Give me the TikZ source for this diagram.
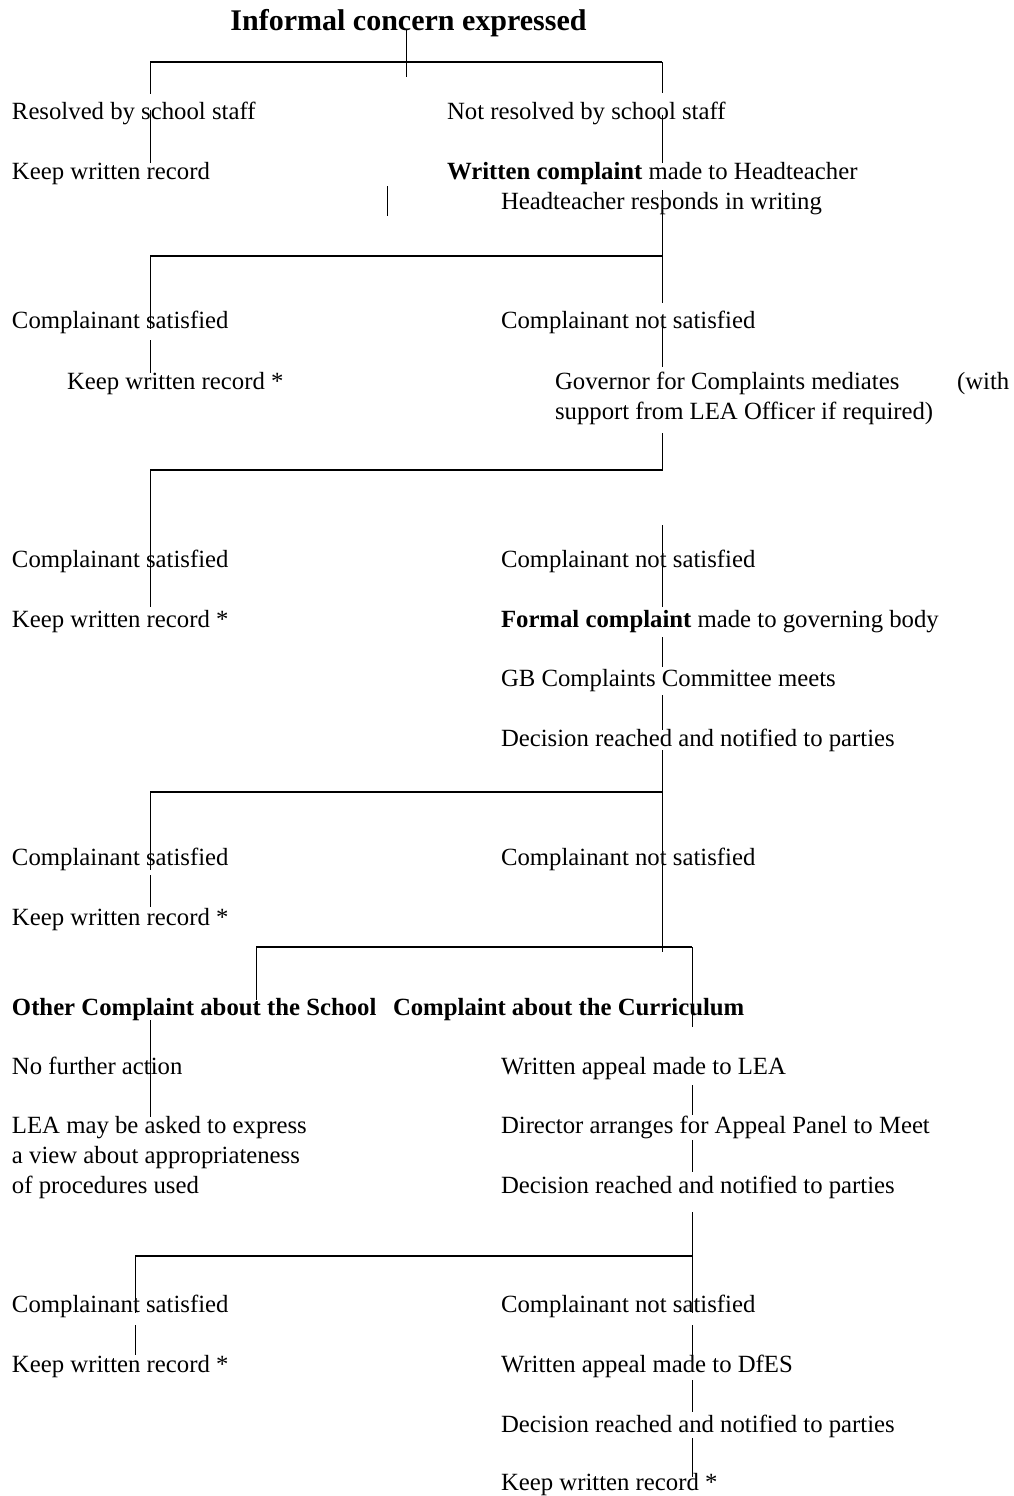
\documentclass[tikz,border=0pt]{standalone}
\usepackage{fontspec}
\setmainfont{Liberation Serif}
\begin{document}
\begin{tikzpicture}[x=1pt,y=-1pt,
  txt/.style={anchor=base west,inner sep=0pt,outer sep=0pt,font=\fontsize{24.75}{30}\selectfont},
  ttl/.style={anchor=base,inner sep=0pt,outer sep=0pt,font=\fontsize{30}{36}\selectfont\bfseries},
  vl/.style={line width=1pt},
  hl/.style={line width=1.7pt}]
\useasboundingbox[fill=white] (0,0) rectangle (1013,1496);

% ---------- texts ----------
\node[ttl] (title) at (408.5,31) {Informal concern expressed};
\node[txt] (res) at (12,119) {Resolved by school staff};
\node[txt] (notres) at (447,119) {Not resolved by school staff};
\node[txt] (kwr1) at (12,179) {Keep written record};
\node[txt] (wc) at (447,179) {\textbf{Written complaint} made to Headteacher};
\node[txt] (htr) at (501,209) {Headteacher responds in writing};
\node[txt] (cs1) at (12,328) {Complainant satisfied};
\node[txt] (cns1) at (501,328) {Complainant not satisfied};
\node[txt] (kwr2) at (67,389) {Keep written record *};
\node[txt] (gov) at (555,389) {Governor for Complaints mediates};
\node[txt] (with) at (957,389) {(with};
\node[txt] (supp) at (555,419) {support from LEA Officer if required)};
\node[txt] (cs2) at (12,567) {Complainant satisfied};
\node[txt] (cns2) at (501,567) {Complainant not satisfied};
\node[txt] (kwr3) at (12,627) {Keep written record *};
\node[txt] (fc) at (501,627) {\textbf{Formal complaint} made to governing body};
\node[txt] (gb) at (501,686) {GB Complaints Committee meets};
\node[txt] (dec1) at (501,746) {Decision reached and notified to parties};
\node[txt] (cs3) at (12,865) {Complainant satisfied};
\node[txt] (cns3) at (501,865) {Complainant not satisfied};
\node[txt] (kwr4) at (12,925) {Keep written record *};
\node[txt] (oth) at (12,1015) {\textbf{Other Complaint about the School}};
\node[txt] (cur) at (393,1015) {\textbf{Complaint about the Curriculum}};
\node[txt] (nfa) at (12,1074) {No further action};
\node[txt] (wal) at (501,1074) {Written appeal made to LEA};
\node[txt] (lea1) at (12,1133) {LEA may be asked to express};
\node[txt] (lea2) at (12,1163) {a view about appropriateness};
\node[txt] (lea3) at (12,1193) {of procedures used};
\node[txt] (dir) at (501,1133) {Director arranges for Appeal Panel to Meet};
\node[txt] (dec2) at (501,1193) {Decision reached and notified to parties};
\node[txt] (cs4) at (12,1312) {Complainant satisfied};
\node[txt] (cns4) at (501,1312) {Complainant not satisfied};
\node[txt] (kwr5) at (12,1372) {Keep written record *};
\node[txt] (wad) at (501,1372) {Written appeal made to DfES};
\node[txt] (dec3) at (501,1432) {Decision reached and notified to parties};
\node[txt] (kwr6) at (501,1490) {Keep written record *};

% ---------- connectors ----------
% block 1
\draw[vl] (406,29) -- (406,77);
\draw[hl] (150,62) -- (662,62);
\draw[vl] (150,62) -- (150,94);
\draw[vl] (662,62) -- (662,93);
\draw[vl] (150,110) -- (150,163);
\draw[vl] (662,115) -- (662,163);
\draw[vl] (387,186) -- (387,216);
\draw[vl] (662,190) -- (662,257);
% block 2
\draw[hl] (150,256) -- (662,256);
\draw[vl] (150,256) -- (150,329);
\draw[vl] (662,256) -- (662,303);
\draw[vl] (662,320) -- (662,367);
\draw[vl] (150,340) -- (150,373);
\draw[vl] (662,433) -- (662,471);
% block 3
\draw[hl] (150,470) -- (662,470);
\draw[vl] (150,470) -- (150,607);
\draw[vl] (662,525) -- (662,607);
\draw[vl] (662,637) -- (662,667);
\draw[vl] (662,695) -- (662,730);
\draw[vl] (662,750) -- (662,952);
% block 4
\draw[hl] (150,792) -- (662,792);
\draw[vl] (150,792) -- (150,870);
\draw[vl] (150,875) -- (150,907);
% block 5
\draw[hl] (256,947) -- (692,947);
\draw[vl] (256,947) -- (256,1000);
\draw[vl] (692,947) -- (692,1027);
\draw[vl] (150,1020) -- (150,1117);
\draw[vl] (692,1085) -- (692,1115);
\draw[vl] (692,1140) -- (692,1172);
\draw[vl] (692,1212) -- (692,1313);
% block 6
\draw[hl] (135,1256) -- (692,1256);
\draw[vl] (135,1256) -- (135,1313);
\draw[vl] (135,1325) -- (135,1355);
\draw[vl] (692,1325) -- (692,1367);
\draw[vl] (692,1380) -- (692,1412);
\draw[vl] (692,1438) -- (692,1477);
\end{tikzpicture}
\end{document}
